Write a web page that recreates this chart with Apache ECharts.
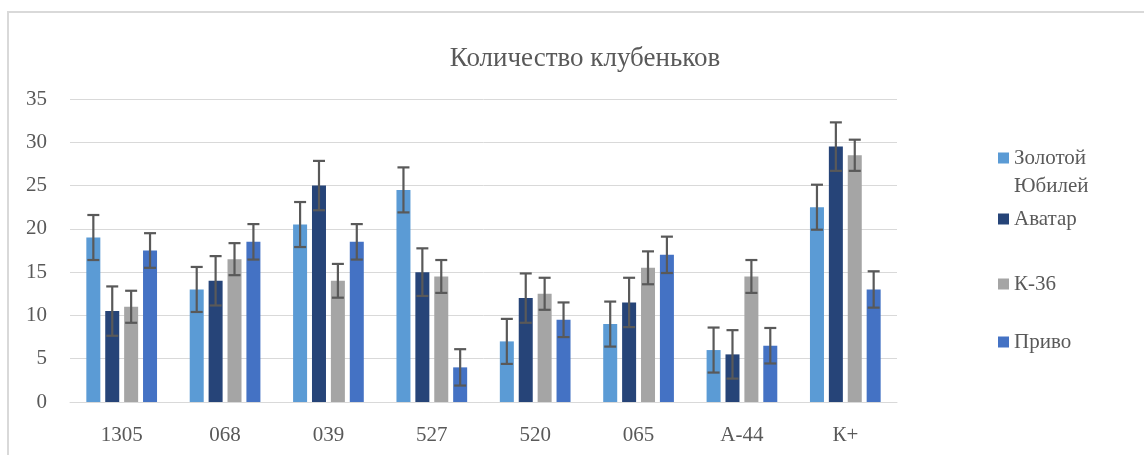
<!DOCTYPE html>
<html>
<head>
<meta charset="utf-8">
<script src="https://cdn.jsdelivr.net/npm/echarts@6/dist/echarts.min.js"></script>
<style>
html,body{margin:0;padding:0;background:#fff;}
#chart{width:1144px;height:455px;position:absolute;left:0;top:0;}
#frame{position:absolute;left:7px;top:11px;width:1200px;height:500px;border-top:2px solid #d9d9d9;border-left:2px solid #d9d9d9;pointer-events:none;}
</style>
</head>
<body>
<div id="chart"></div>
<div id="frame"></div>
<script>
const title = 'Количество клубеньков';
const categories = ['1305', '068', '039', '527', '520', '065', 'А-44', 'К+'];
const seriesNames = ['Золотой Юбилей', 'Аватар', 'К-36', 'Приво'];
const zolotoy = [19, 13, 20.5, 24.5, 7, 9, 6, 22.5];
const avatar = [10.5, 14, 25, 15, 12, 11.5, 5.5, 29.5];
const k36 = [11, 16.5, 14, 14.5, 12.5, 15.5, 14.5, 28.5];
const privo = [17.5, 18.5, 18.5, 4, 9.5, 17, 6.5, 13];
const zolotoyErr = [2.6, 2.6, 2.6, 2.6, 2.6, 2.6, 2.6, 2.6];
const avatarErr = [2.85, 2.85, 2.85, 2.75, 2.85, 2.85, 2.8, 2.8];
const k36Err = [1.85, 1.85, 1.95, 1.9, 1.85, 1.9, 1.9, 1.8];
const privoErr = [2, 2.05, 2.05, 2.1, 2, 2.1, 2.05, 2.1];
const yTicks = [0, 5, 10, 15, 20, 25, 30, 35];

const values = [zolotoy, avatar, k36, privo];
const errors = [zolotoyErr, avatarErr, k36Err, privoErr];
const colors = ['#5B9BD5', '#264478', '#A5A5A5', '#4472C4'];
const FONT = '"Liberation Serif", "Times New Roman", serif';
const TXT = '#595959';
const BAR_W = 14;
const GAP_RATIO = 0.35;
const gapPx = BAR_W * GAP_RATIO;
const totalW = values.length * BAR_W + (values.length - 1) * gapPx;

const chart = echarts.init(document.getElementById('chart'), null, {renderer: 'canvas'});

const barSeries = values.map((vals, s) => ({
  name: seriesNames[s],
  type: 'bar',
  data: vals,
  barWidth: BAR_W,
  barGap: (GAP_RATIO * 100) + '%',
  itemStyle: {color: colors[s]},
  emphasis: {disabled: true},
  z: 2
}));

const errSeries = values.map((vals, s) => ({
  type: 'custom',
  name: seriesNames[s] + ' err',
  data: vals.map((v, i) => [i, v, errors[s][i]]),
  encode: {x: 0, y: 1},
  z: 5,
  silent: true,
  renderItem: function (params, api) {
    const idx = api.value(0), v = api.value(1), e = api.value(2);
    const off = -totalW / 2 + BAR_W / 2 + s * (BAR_W + gapPx);
    const top = api.coord([idx, v + e]);
    const bot = api.coord([idx, v - e]);
    const cx = top[0] + off;
    const half = 6;
    const st = {stroke: '#595959', lineWidth: 2.2};
    return {
      type: 'group',
      children: [
        {type: 'line', shape: {x1: cx, y1: top[1], x2: cx, y2: bot[1]}, style: st},
        {type: 'line', shape: {x1: cx - half, y1: top[1], x2: cx + half, y2: top[1]}, style: st},
        {type: 'line', shape: {x1: cx - half, y1: bot[1], x2: cx + half, y2: bot[1]}, style: st}
      ]
    };
  }
}));

const legendTops = [144, 205, 270, 328];
const legends = seriesNames.map((n, s) => {
  const twoLine = n === 'Золотой Юбилей';
  return {
    data: [n],
    left: 998,
    top: legendTops[s],
    padding: 0,
    orient: 'vertical',
    icon: twoLine ? 'path://M0,0h11v11h-11zM0,38.99h0.01v0.01h-0.01z' : 'rect',
    itemWidth: 11,
    itemHeight: twoLine ? 39 : 11,
    itemGap: 3,
    selectedMode: false,
    formatter: function (name) { return name === 'Золотой Юбилей' ? 'Золотой\nЮбилей' : name; },
    textStyle: {fontFamily: FONT, fontSize: 21, color: TXT, lineHeight: 28}
  };
});

chart.setOption({
  animation: false,
  backgroundColor: '#fff',
  title: {
    text: title,
    left: 580,
    textAlign: 'center',
    top: 40,
    textStyle: {fontFamily: FONT, fontSize: 27, fontWeight: 'normal', color: TXT}
  },
  legend: legends,
  grid: {left: 70, right: 247, top: 99, bottom: 53, containLabel: false},
  xAxis: {
    type: 'category',
    data: categories,
    axisLine: {lineStyle: {color: '#d9d9d9', width: 1}},
    axisTick: {show: false},
    axisLabel: {fontFamily: FONT, fontSize: 21, color: TXT, margin: 23}
  },
  yAxis: {
    type: 'value',
    min: yTicks[0],
    max: yTicks[yTicks.length - 1],
    interval: yTicks[1] - yTicks[0],
    axisLine: {show: false},
    axisTick: {show: false},
    splitLine: {lineStyle: {color: '#d9d9d9', width: 1}},
    axisLabel: {fontFamily: FONT, fontSize: 21, color: TXT, margin: 23}
  },
  series: barSeries.concat(errSeries)
});
</script>
</body>
</html>
